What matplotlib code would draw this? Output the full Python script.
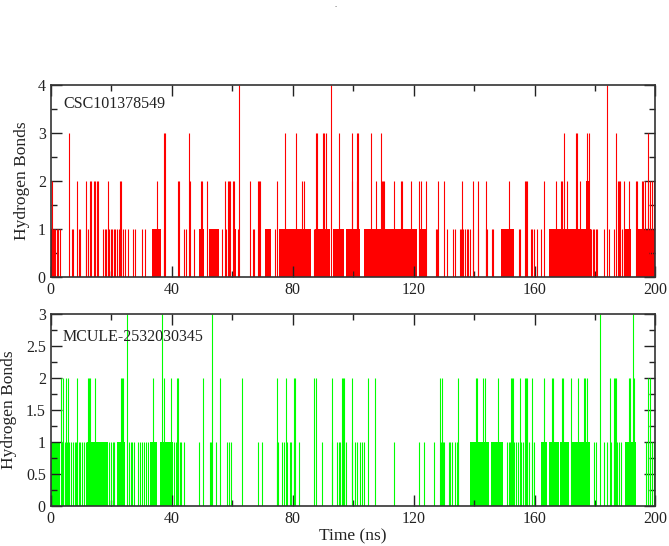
import matplotlib
matplotlib.use('Agg')
import matplotlib.pyplot as plt
from matplotlib.ticker import MultipleLocator, FormatStrFormatter

# ---------------- data (time in ns) ----------------
top_name = "CSC101378549"
bot_name = "MCULE-2532030345"

top_t4 = [62.4, 92.8, 183.9]
top_t3 = [6.0, 37.4, 37.8, 45.6, 77.6, 81.0, 87.6, 88.0, 89.9, 90.4, 91.2, 95.5,
          99.7, 101.2, 101.5, 105.9, 109.2, 169.6, 173.8, 174.2, 177.2, 177.9,
          186.9, 197.4]
top_t2 = [0.4, 8.8, 11.7, 12.9, 13.3, 14.4, 14.8, 15.3, 15.8, 18.9, 23.0, 23.4,
          35.2, 42.1, 42.5, 45.9, 49.6, 49.9, 51.8, 57.5, 58.6, 59.0, 59.4, 60.2,
          60.5, 65.9, 68.5, 68.9, 69.3, 74.8, 83.2, 83.6, 99.5, 101.3, 107.5,
          109.4, 109.8, 110.1, 113.5, 115.8, 116.3, 119.3, 121.9, 122.3, 124.0,
          128.1, 130.1, 135.9, 139.5, 141.4, 144.1, 151.4, 156.8, 157.2, 157.5,
          163.2, 167.1, 168.6, 169.0, 170.9, 175.0, 187.6, 188.0, 188.3, 189.6,
          191.3, 193.4, 193.8, 195.5, 196.0, 196.4, 197.6, 198.2, 198.8, 199.4]
top_t1 = [0.2, 0.6, 1.0, 1.5, 2.0, 2.5, 3.1, 7.0, 7.4, 9.3, 9.7, 11.8, 12.3,
          17.4, 17.9, 18.3, 18.8, 19.4, 19.8, 20.3, 20.8, 21.2, 21.8, 22.5, 23.1,
          23.8, 24.7, 25.6, 27.2, 28.0, 30.3, 31.1, 37.6, 44.1, 44.8, 47.4, 56.6,
          58.0, 62.0, 66.8, 67.3, 74.3, 87.0, 127.3, 127.7, 131.0, 133.2, 133.6,
          135.3, 135.8, 136.4, 136.9, 137.6, 138.1, 138.6, 139.6, 141.4, 143.8,
          144.2, 145.8, 146.2, 149.1, 154.8, 155.3, 158.8, 159.3, 159.9, 160.8,
          162.1, 178.8, 179.3, 179.8, 180.3, 180.8, 183.0, 184.7, 186.3, 189.0,
          189.5]
# dense stretches: (start, end, level)
top_bands = [(33.6, 36.4, 1), (49.0, 50.6, 1), (52.4, 55.6, 1), (60.2, 61.2, 1),
             (71.0, 73.0, 1), (75.5, 86.0, 1), (87.5, 92.5, 1), (93.5, 97.0, 1),
             (97.6, 99.8, 1), (100.0, 102.2, 1), (103.6, 121.0, 1),
             (121.8, 124.3, 1), (148.9, 153.3, 1), (164.8, 178.6, 1),
             (177.1, 178.3, 2), (190.0, 191.8, 1), (194.0, 199.6, 1)]

bot_t3 = [25.3, 36.8, 53.5, 181.7, 192.7]
bot_t2 = [3.5, 3.9, 5.2, 5.6, 8.8, 12.2, 12.6, 13.0, 14.7, 23.4, 23.7, 24.0, 33.8,
          37.4, 39.9, 41.6, 42.1, 50.3, 56.0, 63.3, 74.7, 77.7, 80.5, 80.9, 87.2,
          87.7, 92.9, 96.3, 96.7, 97.0, 99.7, 105.0, 107.2, 128.9, 129.3, 134.8,
          140.6, 141.0, 142.9, 143.6, 148.0, 152.1, 152.5, 152.9, 155.3, 156.8,
          157.2, 157.6, 159.1, 163.0, 165.8, 166.2, 169.0, 169.4, 172.0, 174.4,
          176.2, 176.6, 177.3, 184.9, 186.2, 186.6, 187.0, 191.1, 191.6, 192.9,
          197.5, 198.2]
bot_t1 = [3.6, 4.2, 4.8, 5.4, 6.2, 6.8, 7.3, 7.9, 8.5, 9.2, 9.8, 10.4, 11.0, 11.6,
          19.4, 19.9, 20.5, 20.9, 25.9, 26.4, 27.0, 27.7, 28.9, 29.6, 30.3, 31.0,
          31.6, 32.2, 40.8, 41.4, 42.0, 42.6, 43.2, 44.0, 49.0, 52.6, 53.1, 54.5,
          58.4, 59.0, 59.5, 68.6, 69.9, 74.9, 75.3, 76.5, 77.3, 78.1, 79.0, 79.6,
          80.4, 82.0, 89.8, 92.9, 94.8, 95.3, 95.8, 97.0, 97.5, 99.8, 100.6,
          101.4, 102.2, 103.1, 103.7, 113.5, 121.9, 123.4, 126.7, 129.0, 129.4,
          129.8, 130.2, 131.6, 132.1, 132.6, 133.6, 134.2, 134.8, 148.9, 151.0,
          151.5, 152.0, 152.6, 153.2, 153.8, 154.4, 155.4, 156.2, 156.9, 157.5,
          158.3, 159.2, 159.9, 179.7, 180.3, 183.0, 184.1, 185.2, 186.3, 186.8,
          187.4, 188.0, 188.5, 196.9, 197.6, 198.3, 199.0, 199.6]
bot_bands = [(0.1, 3.0, 1), (12.0, 18.8, 1), (22.0, 24.5, 1), (33.0, 35.3, 1),
             (36.2, 40.3, 1), (138.6, 145.0, 1), (145.5, 149.6, 1),
             (162.3, 164.0, 1), (164.8, 168.0, 1), (168.5, 171.5, 1),
             (172.0, 176.5, 1), (177.0, 178.5, 1), (190.0, 193.5, 1)]

x_ticks = [0, 40, 80, 120, 160, 200]

# ---------------- drawing ----------------
plt.rcParams['font.family'] = ['Liberation Serif', 'DejaVu Serif']

fig = plt.figure(figsize=(6.69, 5.46), dpi=100)
ax1 = fig.add_axes([0.0758, 0.4932, 0.904, 0.3511])
ax2 = fig.add_axes([0.0758, 0.0738, 0.904, 0.3505])


def draw(ax, spikes, bands, color):
    for s, e, lev in bands:
        ax.bar(s, lev, width=e - s, align='edge', color=color, linewidth=0)
    for lev, times in spikes:
        ax.vlines(times, 0, lev, color=color, linewidth=0.8)


draw(ax1, [(1, top_t1), (2, top_t2), (3, top_t3), (4, top_t4)], top_bands, '#ff0000')
draw(ax2, [(1, bot_t1), (2, bot_t2), (3, bot_t3)], bot_bands, '#00ff00')

for ax, ymax, ymaj, ymin, lx in [(ax1, 4, 1, 0.5, -0.034), (ax2, 3, 0.5, 0.25, -0.055)]:
    ax.set_xlim(0, 200)
    ax.set_ylim(0, ymax)
    ax.set_xticks(x_ticks)
    ax.xaxis.set_minor_locator(MultipleLocator(20))
    ax.yaxis.set_major_locator(MultipleLocator(ymaj))
    ax.yaxis.set_minor_locator(MultipleLocator(ymin))
    ax.yaxis.set_major_formatter(FormatStrFormatter('%g'))
    ax.tick_params(which='both', direction='in', top=True, right=True,
                   labelsize=11.5, colors='#222222', width=1.0)
    ax.tick_params(which='major', length=8)
    ax.tick_params(which='minor', length=4.5)
    for sp in ax.spines.values():
        sp.set_color('#333333')
        sp.set_linewidth(1.2)
    ax.set_ylabel('Hydrogen Bonds', fontsize=12.5, color='#222222')
    ax.yaxis.set_label_coords(lx, 0.5)

ax1.text(4.1, 3.6, top_name, fontsize=11.5, va='center', ha='left', color='#222222')
ax2.text(3.8, 2.65, bot_name, fontsize=11.5, va='center', ha='left', color='#222222')
ax2.set_xlabel('Time (ns)', fontsize=12.5, color='#222222', labelpad=1)

fig.text(0.502, 0.988, '.', fontsize=6, ha='center', color='#444444')

fig.savefig('out.png', dpi=100)
